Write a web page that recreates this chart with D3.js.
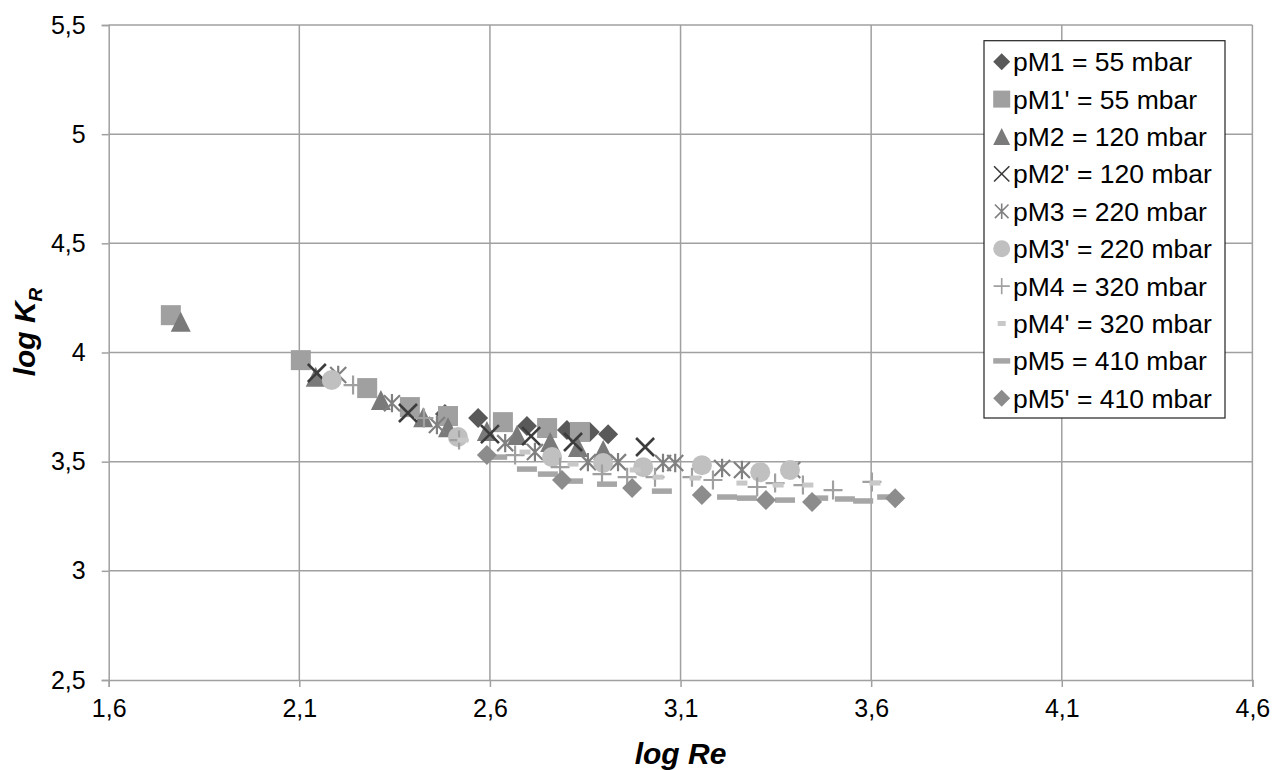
<!DOCTYPE html>
<html>
<head>
<meta charset="utf-8">
<script src="https://cdn.jsdelivr.net/npm/d3@7"></script>
<style>
  body { margin: 0; background: #fff; }
  svg { display: block; font-family: "Liberation Sans", Arial, sans-serif; }
</style>
</head>
<body>
<div id="chart"></div>
<script>
// series values: [log Re, log K_R]
const pM1  = [[2.482,3.718],[2.569,3.700],[2.697,3.663],[2.802,3.645],[2.862,3.636],[2.910,3.626]];
const pM1b = [[1.763,4.171],[2.104,3.965],[2.278,3.837],[2.390,3.750],[2.490,3.709],[2.634,3.681],[2.750,3.654],[2.836,3.636]];
const pM2  = [[1.789,4.141],[2.143,3.889],[2.314,3.782],[2.425,3.704],[2.490,3.658],[2.592,3.640],[2.671,3.622],[2.758,3.590],[2.831,3.567],[2.897,3.553]];
const pM2b = [[2.146,3.906],[2.385,3.723],[2.600,3.626],[2.708,3.617],[2.818,3.590],[3.007,3.567]];
const pM3  = [[2.202,3.897],[2.343,3.768],[2.461,3.668],[2.640,3.585],[2.718,3.544],[2.857,3.498],[2.936,3.498],[3.054,3.494],[3.086,3.494],[3.209,3.471],[3.261,3.462],[3.393,3.462]];
const pM3b = [[2.185,3.874],[2.516,3.613],[2.763,3.521],[2.897,3.494],[3.002,3.475],[3.156,3.484],[3.309,3.452],[3.387,3.462]];
const pM4  = [[2.241,3.851],[2.427,3.700],[2.519,3.599],[2.666,3.530],[2.784,3.475],[2.894,3.443],[2.960,3.429],[3.033,3.429],[3.130,3.429],[3.185,3.416],[3.301,3.384],[3.348,3.402],[3.421,3.393],[3.500,3.370],[3.602,3.407]];
const pM4b = [[2.529,3.599],[2.692,3.544],[2.818,3.489],[2.981,3.462],[3.041,3.429],[3.138,3.425],[3.261,3.402],[3.356,3.393],[3.434,3.393],[3.610,3.402]];
const pM5  = [[2.619,3.521],[2.697,3.466],[2.752,3.443],[2.818,3.411],[2.907,3.397],[3.051,3.365],[3.222,3.338],[3.274,3.333],[3.374,3.324],[3.461,3.333],[3.531,3.329],[3.579,3.320],[3.642,3.338]];
const pM5b = [[2.592,3.530],[2.789,3.416],[2.973,3.379],[3.156,3.347],[3.324,3.324],[3.445,3.315],[3.663,3.333]];

const seriesNames = ["pM1 = 55 mbar", "pM1' = 55 mbar", "pM2 = 120 mbar", "pM2' = 120 mbar",
                     "pM3 = 220 mbar", "pM3' = 220 mbar", "pM4 = 320 mbar", "pM4' = 320 mbar",
                     "pM5 = 410 mbar", "pM5' = 410 mbar"];
const seriesValues = [pM1, pM1b, pM2, pM2b, pM3, pM3b, pM4, pM4b, pM5, pM5b];

const xTicks = [1.6, 2.1, 2.6, 3.1, 3.6, 4.1, 4.6];
const yTicks = [2.5, 3, 3.5, 4, 4.5, 5, 5.5];

// marker look per series
const markers = [
  {shape: "diamond",  color: "#595959"},
  {shape: "square",   color: "#a0a0a0"},
  {shape: "triangle", color: "#7a7a7a"},
  {shape: "x",        color: "#3c3c3c"},
  {shape: "star",     color: "#808080"},
  {shape: "circle",   color: "#c0c0c0"},
  {shape: "plus",     color: "#a0a0a0"},
  {shape: "dash",     color: "#c8c8c8"},
  {shape: "longdash", color: "#a6a6a6"},
  {shape: "diamond",  color: "#8c8c8c"}
];

const width = 1272, height = 770;
const plotLeft = 108.7, plotRight = 1252.4, plotTop = 25, plotBottom = 680;

const comma = d3.formatLocale({decimal: ",", thousands: ".", grouping: [3], currency: ["", ""]}).format("~g");

const x = d3.scaleLinear().domain([1.6, 4.6]).range([plotLeft, plotRight]);
const y = d3.scaleLinear().domain([2.5, 5.5]).range([plotBottom, plotTop]);

const svg = d3.select("#chart").append("svg")
    .attr("width", width)
    .attr("height", height);

const gridColor = "#a0a0a0";

// gridlines
svg.append("g").selectAll("line").data(yTicks.slice(1)).join("line")
    .attr("x1", plotLeft).attr("x2", plotRight)
    .attr("y1", d => y(d)).attr("y2", d => y(d))
    .attr("stroke", gridColor).attr("stroke-width", 1.5);

svg.append("g").selectAll("line").data(xTicks.slice(1)).join("line")
    .attr("x1", d => x(d)).attr("x2", d => x(d))
    .attr("y1", plotTop).attr("y2", plotBottom)
    .attr("stroke", gridColor).attr("stroke-width", 1.5);

// axes
const xAxis = svg.append("g")
    .attr("transform", `translate(0,${plotBottom})`)
    .call(d3.axisBottom(x).tickValues(xTicks).tickFormat(comma).tickSize(7).tickPadding(12));
const yAxis = svg.append("g")
    .attr("transform", `translate(${plotLeft},0)`)
    .call(d3.axisLeft(y).tickValues(yTicks).tickFormat(comma).tickSize(7).tickPadding(16));

[xAxis, yAxis].forEach(ax => {
  ax.select(".domain").attr("stroke", gridColor).attr("stroke-width", 1.5);
  ax.selectAll(".tick line").attr("stroke", gridColor).attr("stroke-width", 1.5);
  ax.selectAll(".tick text")
    .attr("fill", "#000")
    .style("font-size", "25px")
    .style("font-family", "'Liberation Sans', Arial, sans-serif");
});
xAxis.selectAll(".tick text").attr("dy", "0.71em");

// marker painter
function drawMarker(g, shape, color, k) {
  const r = 10 * k;
  if (shape === "diamond") {
    g.append("path").attr("d", `M0,${-r}L${r},0L0,${r}L${-r},0Z`).attr("fill", color);
  } else if (shape === "square") {
    g.append("rect").attr("x", -r).attr("y", -r).attr("width", 2 * r).attr("height", 2 * r).attr("fill", color);
  } else if (shape === "triangle") {
    g.append("path").attr("d", `M0,${-r}L${r},${r}L${-r},${r}Z`).attr("fill", color);
  } else if (shape === "circle") {
    g.append("circle").attr("r", r).attr("fill", color);
  } else if (shape === "x") {
    const a = 9 * k;
    g.append("path").attr("d", `M${-a},${-a}L${a},${a}M${-a},${a}L${a},${-a}`)
      .attr("stroke", color).attr("stroke-width", k < 1 ? 1.6 : 2.6).attr("fill", "none");
  } else if (shape === "star") {
    const a = 8 * k;
    g.append("path").attr("d", `M${-a},${-a}L${a},${a}M${-a},${a}L${a},${-a}M0,${-a * 1.15}L0,${a * 1.15}`)
      .attr("stroke", color).attr("stroke-width", k < 1 ? 1.6 : 2.2).attr("fill", "none");
  } else if (shape === "plus") {
    const a = 9.5 * k;
    g.append("path").attr("d", `M${-a},0L${a},0M0,${-a}L0,${a}`)
      .attr("stroke", color).attr("stroke-width", k < 1 ? 1.6 : 2.2).attr("fill", "none");
  } else if (shape === "dash") {
    const w = k < 1 ? 8 : 11;
    g.append("rect").attr("x", -w / 2).attr("y", -2.5).attr("width", w).attr("height", 5).attr("fill", color);
  } else if (shape === "longdash") {
    const w = k < 1 ? 17 : 20;
    g.append("rect").attr("x", -w / 2).attr("y", -2.75).attr("width", w).attr("height", 5.5).attr("fill", color);
  }
}

// points
seriesValues.forEach((vals, i) => {
  const m = markers[i];
  const sg = svg.append("g").attr("class", `series-${i}`);
  vals.forEach(d => {
    const g = sg.append("g").attr("transform", `translate(${x(d[0])},${y(d[1])})`);
    drawMarker(g, m.shape, m.color, 1);
  });
});

// axis titles
svg.append("text")
    .attr("x", (plotLeft + plotRight) / 2)
    .attr("y", 764)
    .attr("text-anchor", "middle")
    .style("font-size", "30px")
    .style("font-weight", "bold")
    .style("font-style", "italic")
    .text("log Re");

const yTitle = svg.append("text")
    .attr("transform", "translate(35,332) rotate(-90)")
    .attr("text-anchor", "middle")
    .style("font-size", "30px")
    .style("font-weight", "bold")
    .style("font-style", "italic");
yTitle.append("tspan").text("log K");
yTitle.append("tspan").attr("dy", 7).style("font-size", "19px").text("R");

// legend
const lx = 984, ly = 40.7, lw = 241, lh = 377.3, rowGap = 37.4;
svg.append("rect")
    .attr("x", lx).attr("y", ly).attr("width", lw).attr("height", lh)
    .attr("fill", "#fff").attr("stroke", "#222").attr("stroke-width", 1.2);

seriesNames.forEach((name, i) => {
  const cy = 61.7 + i * rowGap;
  const g = svg.append("g").attr("transform", `translate(1001.7,${cy})`);
  drawMarker(g, markers[i].shape, markers[i].color, 0.85);
  svg.append("text")
      .attr("x", 1013).attr("y", cy)
      .attr("dy", "0.36em")
      .style("font-size", "26.5px")
      .text(name);
});
</script>
</body>
</html>
